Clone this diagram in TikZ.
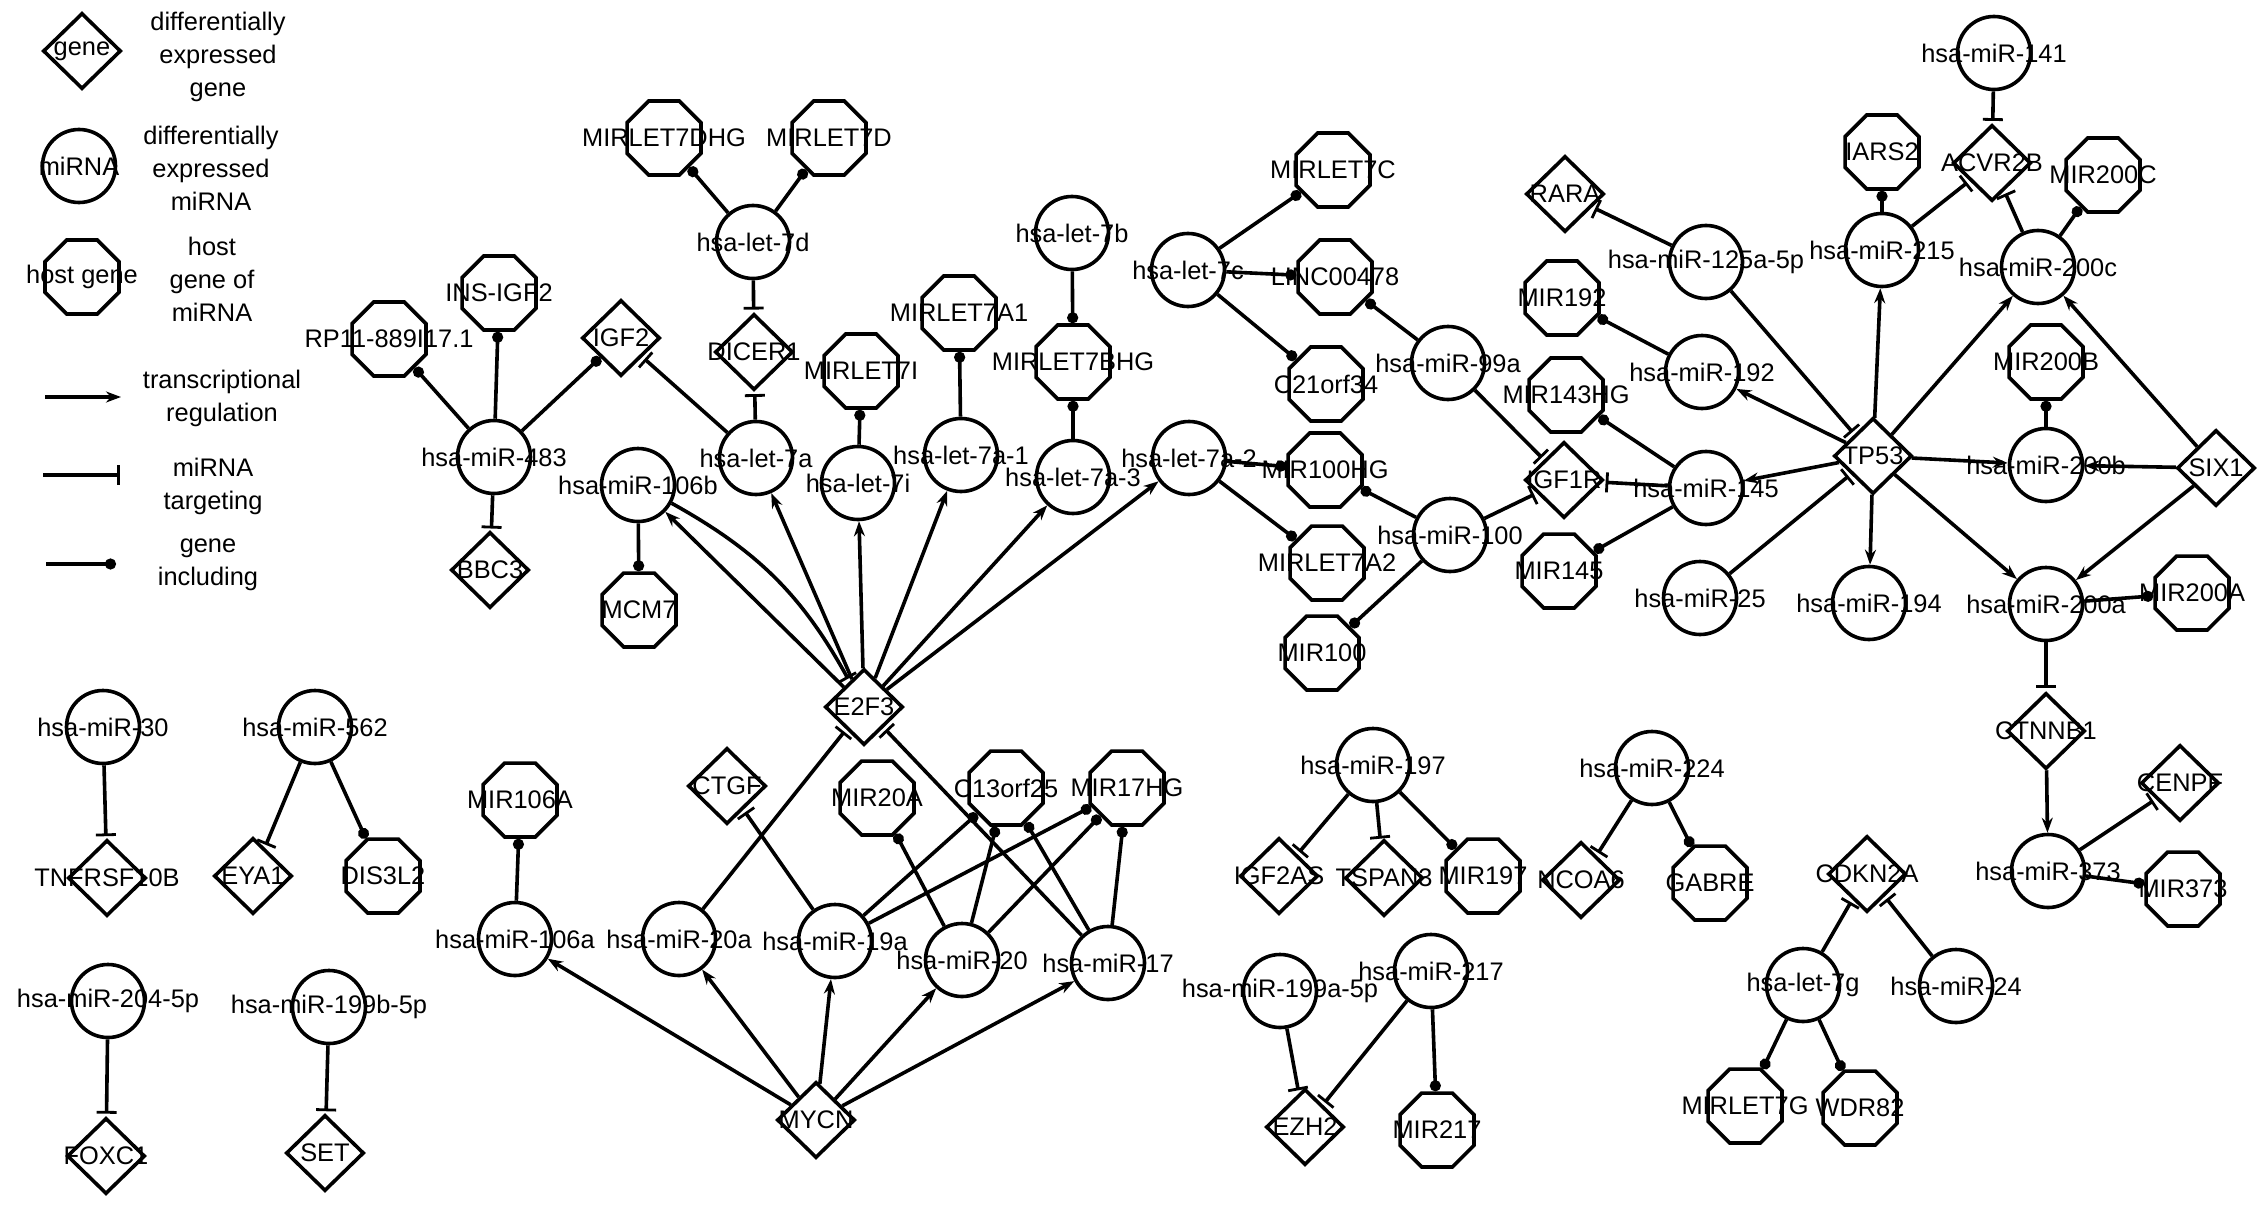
\documentclass[tikz,border=0pt]{standalone}
\usepackage{fontspec}
\setmainfont{Liberation Sans}
\usetikzlibrary{shapes.geometric,arrows.meta}
\begin{document}
\begin{tikzpicture}[x=0.5pt,y=-0.5pt,
  every node/.style={font=\fontsize{12.7pt}{16.5pt}\selectfont},
  mir/.style={circle,draw,line width=1.8pt,minimum size=36.5pt,inner sep=0pt},
  gene/.style={diamond,draw,line width=1.8pt,minimum width=39pt,minimum height=38pt,inner sep=0pt},
  host/.style={regular polygon,regular polygon sides=8,draw,line width=1.8pt,minimum size=40pt,inner sep=0pt},
  edge/.style={line width=1.8pt},
  reg/.style={edge,-{Stealth[length=7.5pt,width=5.5pt]}},
  tgt/.style={edge,-{Bar[width=10pt,line width=1.4pt]},shorten >=1.5pt},
  inc/.style={edge,-{Circle[length=5.5pt]}},
  txt/.style={align=center,inner sep=0pt}]
\useasboundingbox (0,0) rectangle (2268,1209);

% ---------- legend ----------
\node[gene,label=center:gene] (lgene) at (82,51) {};
\node[mir,label=center:miRNA] (lmir) at (79,166) {};
\node[host,label=center:host gene] (lhost) at (82,277) {};
\node[txt] (t1) at (218,57) {differentially\\expressed\\gene};
\node[txt] (t2) at (211,168) {differentially\\expressed\\miRNA};
\node[txt] (t3) at (212,279) {host\\gene of\\miRNA};
\coordinate (la1) at (45,397); \coordinate (la2) at (121,397);
\coordinate (lb1) at (43,475); \coordinate (lb2) at (120,475);
\coordinate (lc1) at (46,564); \coordinate (lc2) at (116,564);
\draw[reg] (la1) -- (la2);
\draw[edge,-{Bar[width=10pt,line width=1.4pt]}] (lb1) -- (lb2);
\draw[inc] (lc1) -- (lc2);
\node[txt] (t4) at (222,398) {transcriptional\\regulation};
\node[txt] (t5) at (213,486) {miRNA\\targeting};
\node[txt] (t6) at (208,565) {gene\\including};

% ---------- nodes ----------
\node[host,label=center:RP11-889I17.1] (rp11) at (389,339) {};
\node[host,label=center:INS-IGF2] (insigf2) at (499,293) {};
\node[mir,label=center:hsa-miR-483] (m483) at (494,457) {};
\node[gene,label=center:BBC3] (bbc3) at (490,570) {};
\node[gene,label=center:IGF2] (igf2) at (621,338) {};
\node[host,label=center:MIRLET7DHG] (mirlet7dhg) at (664,138) {};
\node[host,label=center:MIRLET7D] (mirlet7d) at (829,138) {};
\node[mir,label=center:hsa-let-7d] (let7d) at (753,242) {};
\node[gene,label=center:DICER1] (dicer1) at (754,352) {};
\node[mir,label=center:hsa-let-7b] (let7b) at (1072,233) {};
\node[host,label=center:MIRLET7A1] (mirlet7a1) at (959,313) {};
\node[host,label=center:MIRLET7I] (mirlet7i) at (861,371) {};
\node[host,label=center:MIRLET7BHG] (mirlet7bhg) at (1073,362) {};
\node[mir,label=center:hsa-miR-106b] (m106b) at (638,485) {};
\node[host,label=center:MCM7] (mcm7) at (639,610) {};
\node[mir,label=center:hsa-let-7a] (let7a) at (756,458) {};
\node[mir,label=center:hsa-let-7i] (let7i) at (858,483) {};
\node[mir,label=center:hsa-let-7a-1] (let7a1) at (961,455) {};
\node[mir,label=center:hsa-let-7a-3] (let7a3) at (1073,477) {};
\node[gene,label=center:E2F3] (e2f3) at (864,707) {};
\node[gene,label=center:CTGF] (ctgf) at (727,786) {};
\node[host,label=center:MIR20A] (mir20a) at (877,798) {};
\node[host,label=center:C13orf25] (c13orf25) at (1006,788) {};
\node[host,label=center:MIR17HG] (mir17hg) at (1127,788) {};
\node[mir,label=center:hsa-miR-20a] (m20a) at (679,939) {};
\node[mir,label=center:hsa-miR-19a] (m19a) at (835,941) {};
\node[mir,label=center:hsa-miR-20] (m20) at (962,960) {};
\node[mir,label=center:hsa-miR-17] (m17) at (1108,963) {};
\node[gene,label=center:MYCN] (mycn) at (816,1120) {};
\node[host,label=center:MIR106A] (mir106a) at (520,800) {};
\node[mir,label=center:hsa-miR-106a] (m106a) at (515,939) {};
\node[mir,label=center:hsa-miR-30] (m30) at (103,727) {};
\node[gene,label=center:TNFRSF10B] (tnfrsf10b) at (107,878) {};
\node[mir,label=center:hsa-miR-562] (m562) at (315,727) {};
\node[gene,label=center:EYA1] (eya1) at (253,876) {};
\node[host,label=center:DIS3L2] (dis3l2) at (383,876) {};
\node[mir,label=center:hsa-miR-204-5p] (m204) at (108,1001) {};
\node[gene,label=center:FOXC1] (foxc1) at (106,1156) {};
\node[mir,label=center:hsa-miR-199b-5p] (m199b) at (329,1007) {};
\node[gene,label=center:SET] (set) at (325,1153) {};
\node[host,label=center:MIRLET7C] (mirlet7c) at (1333,170) {};
\node[mir,label=center:hsa-let-7c] (let7c) at (1188,270) {};
\node[host,label=center:LINC00478] (linc) at (1335,277) {};
\node[host,label=center:C21orf34] (c21) at (1326,384) {};
\node[mir,label=center:hsa-miR-99a] (m99a) at (1448,363) {};
\node[gene,label=center:RARA] (rara) at (1565,194) {};
\node[host,label=center:MIR192] (mir192) at (1562,298) {};
\node[host,label=center:MIR143HG] (mir143hg) at (1566,395) {};
\node[mir,label=center:hsa-miR-125a-5p] (m125) at (1706,262) {};
\node[mir,label=center:hsa-miR-192] (m192) at (1702,372) {};
\node[mir,label=center:hsa-miR-141] (m141) at (1994,53) {};
\node[gene,label=center:ACVR2B] (acvr2b) at (1992,163) {};
\node[host,label=center:IARS2] (iars2) at (1882,152) {};
\node[host,label=center:MIR200C] (mir200c) at (2103,175) {};
\node[mir,label=center:hsa-miR-215] (m215) at (1882,250) {};
\node[mir,label=center:hsa-miR-200c] (m200c) at (2038,267) {};
\node[host,label=center:MIR200B] (mir200b) at (2046,362) {};
\node[mir,label=center:hsa-let-7a-2] (let7a2) at (1189,458) {};
\node[host,label=center:MIR100HG] (mir100hg) at (1325,470) {};
\node[host,label=center:MIRLET7A2] (mirlet7a2) at (1327,563) {};
\node[mir,label=center:hsa-miR-100] (m100) at (1450,535) {};
\node[host,label=center:MIR100] (mir100) at (1322,653) {};
\node[gene,label=center:IGF1R] (igf1r) at (1564,480) {};
\node[host,label=center:MIR145] (mir145) at (1559,571) {};
\node[mir,label=center:hsa-miR-145] (m145) at (1706,488) {};
\node[mir,label=center:hsa-miR-25] (m25) at (1700,598) {};
\node[gene,label=center:TP53] (tp53) at (1873,456) {};
\node[mir,label=center:hsa-miR-200b] (m200b) at (2046,465) {};
\node[gene,label=center:SIX1] (six1) at (2216,468) {};
\node[mir,label=center:hsa-miR-194] (m194) at (1869,603) {};
\node[mir,label=center:hsa-miR-200a] (m200a) at (2046,604) {};
\node[host,label=center:MIR200A] (mir200a) at (2192,593) {};
\node[gene,label=center:CTNNB1] (ctnnb1) at (2046,731) {};
\node[gene,label=center:CENPF] (cenpf) at (2180,783) {};
\node[mir,label=center:hsa-miR-373] (m373) at (2048,871) {};
\node[host,label=center:MIR373] (mir373) at (2183,889) {};
\node[mir,label=center:hsa-miR-197] (m197) at (1373,765) {};
\node[gene,label=center:IGF2AS] (igf2as) at (1279,876) {};
\node[gene,label=center:TSPAN3] (tspan3) at (1384,878) {};
\node[host,label=center:MIR197] (mir197) at (1483,876) {};
\node[mir,label=center:hsa-miR-224] (m224) at (1652,768) {};
\node[gene,label=center:NCOA6] (ncoa6) at (1581,880) {};
\node[host,label=center:GABRE] (gabre) at (1710,883) {};
\node[mir,label=center:hsa-miR-199a-5p] (m199a) at (1280,991) {};
\node[mir,label=center:hsa-miR-217] (m217) at (1431,971) {};
\node[gene,label=center:EZH2] (ezh2) at (1305,1127) {};
\node[host,label=center:MIR217] (mir217) at (1437,1130) {};
\node[gene,label=center:CDKN2A] (cdkn2a) at (1867,874) {};
\node[mir,label=center:hsa-let-7g] (let7g) at (1803,985) {};
\node[mir,label=center:hsa-miR-24] (m24) at (1956,986) {};
\node[host,label=center:MIRLET7G] (mirlet7g) at (1745,1106) {};
\node[host,label=center:WDR82] (wdr82) at (1860,1108) {};

% ---------- edges: left ----------
\draw[inc] (m483) -- (rp11);
\draw[inc] (m483) -- (insigf2);
\draw[inc] (m483) -- (igf2);
\draw[tgt] (m483) -- (bbc3);
\draw[tgt] (let7a) -- (igf2);
\draw[inc] (let7d) -- (mirlet7dhg);
\draw[inc] (let7d) -- (mirlet7d);
\draw[tgt] (let7d) -- (dicer1);
\draw[tgt] (let7a) -- (dicer1);
\draw[inc] (let7i) -- (mirlet7i);
\draw[inc] (let7a1) -- (mirlet7a1);
\draw[inc] (let7b) -- (mirlet7bhg);
\draw[inc] (let7a3) -- (mirlet7bhg);
\draw[inc] (m106b) -- (mcm7);
\draw[reg] (e2f3) -- (m106b);
\draw[tgt] (m106b) to[bend left=16] (e2f3);
\draw[reg] (e2f3) -- (let7a);
\draw[reg] (e2f3) -- (let7i);
\draw[reg] (e2f3) -- (let7a1);
\draw[reg] (e2f3) -- (let7a3);
\draw[reg] (e2f3) -- (let7a2);
\draw[tgt] (m20a) -- (e2f3);
\draw[tgt] (m17) -- (e2f3);
\draw[tgt] (m19a) -- (ctgf);
\draw[inc] (m19a) -- (c13orf25);
\draw[inc] (m19a) -- (mir17hg);
\draw[inc] (m20) -- (mir20a);
\draw[inc] (m20) -- (c13orf25);
\draw[inc] (m20) -- (mir17hg);
\draw[inc] (m17) -- (c13orf25);
\draw[inc] (m17) -- (mir17hg);
\draw[reg] (mycn) -- (m106a);
\draw[reg] (mycn) -- (m20a);
\draw[reg] (mycn) -- (m19a);
\draw[reg] (mycn) -- (m20);
\draw[reg] (mycn) -- (m17);
\draw[inc] (m106a) -- (mir106a);
\draw[tgt] (m30) -- (tnfrsf10b);
\draw[tgt] (m562) -- (eya1);
\draw[inc] (m562) -- (dis3l2);
\draw[tgt] (m204) -- (foxc1);
\draw[tgt] (m199b) -- (set);

% ---------- edges: middle / right ----------
\draw[inc] (let7c) -- (mirlet7c);
\draw[inc] (let7c) -- (linc);
\draw[inc] (let7c) -- (c21);
\draw[inc] (m99a) -- (linc);
\draw[tgt] (m99a) -- (igf1r);
\draw[inc] (let7a2) -- (mir100hg);
\draw[inc] (let7a2) -- (mirlet7a2);
\draw[inc] (m100) -- (mir100hg);
\draw[inc] (m100) -- (mir100);
\draw[tgt] (m100) -- (igf1r);
\draw[tgt] (m145) -- (igf1r);
\draw[inc] (m145) -- (mir145);
\draw[inc] (m145) -- (mir143hg);
\draw[inc] (m192) -- (mir192);
\draw[tgt] (m125) -- (rara);
\draw[tgt] (m125) -- (tp53);
\draw[tgt] (m25) -- (tp53);
\draw[reg] (tp53) -- (m215);
\draw[reg] (tp53) -- (m192);
\draw[reg] (tp53) -- (m145);
\draw[reg] (tp53) -- (m194);
\draw[reg] (tp53) -- (m200a);
\draw[reg] (tp53) -- (m200b);
\draw[reg] (tp53) -- (m200c);
\draw[inc] (m215) -- (iars2);
\draw[tgt] (m215) -- (acvr2b);
\draw[tgt] (m141) -- (acvr2b);
\draw[tgt] (m200c) -- (acvr2b);
\draw[inc] (m200c) -- (mir200c);
\draw[reg] (six1) -- (m200c);
\draw[reg] (six1) -- (m200b);
\draw[reg] (six1) -- (m200a);
\draw[inc] (m200b) -- (mir200b);
\draw[inc] (m200a) -- (mir200a);
\draw[tgt] (m200a) -- (ctnnb1);
\draw[reg] (ctnnb1) -- (m373);
\draw[tgt] (m373) -- (cenpf);
\draw[inc] (m373) -- (mir373);

% ---------- edges: bottom ----------
\draw[tgt] (m197) -- (igf2as);
\draw[tgt] (m197) -- (tspan3);
\draw[inc] (m197) -- (mir197);
\draw[tgt] (m224) -- (ncoa6);
\draw[inc] (m224) -- (gabre);
\draw[tgt] (m199a) -- (ezh2);
\draw[tgt] (m217) -- (ezh2);
\draw[inc] (m217) -- (mir217);
\draw[tgt] (let7g) -- (cdkn2a);
\draw[tgt] (m24) -- (cdkn2a);
\draw[inc] (let7g) -- (mirlet7g);
\draw[inc] (let7g) -- (wdr82);
\end{tikzpicture}
\end{document}
